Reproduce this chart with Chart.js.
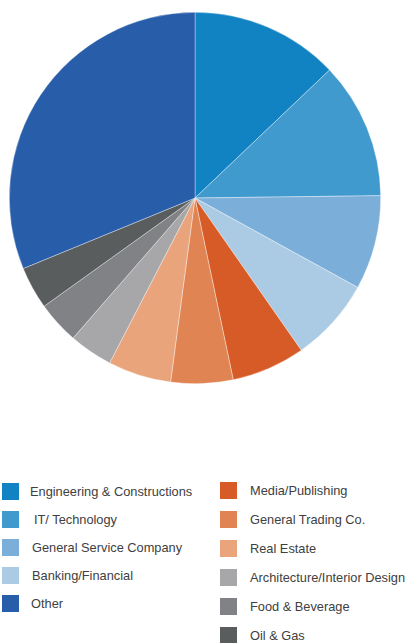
<!DOCTYPE html>
<html>
<head>
<meta charset="utf-8">
<script src="https://cdn.jsdelivr.net/npm/chart.js@4/dist/chart.umd.min.js"></script>
<style>
  html, body { margin: 0; padding: 0; background: #fff; }
  body { width: 406px; height: 643px; position: relative; overflow: hidden;
         font-family: "Liberation Sans", Arial, Helvetica, sans-serif; }
  #wrap { position: absolute; left: 0; top: 0; width: 406px; height: 400px; }
  .legend-item { position: absolute; height: 18px; line-height: 18px; font-size: 12.8px; color: #404040; white-space: nowrap; }
  .legend-item span { position: absolute; left: 0; top: 0; width: 17px; height: 17px; }
</style>
</head>
<body>
<div id="wrap"><canvas id="myChart"></canvas></div>
<div id="legend"></div>

<script>
const labels = [
  'Engineering & Constructions', 'IT/ Technology', 'General Service Company', 'Banking/Financial',
  'Media/Publishing', 'General Trading Co.', 'Real Estate', 'Architecture/Interior Design',
  'Food & Beverage', 'Oil & Gas', 'Other'
];
const shares = [12.9, 11.9, 8.2, 7.3, 6.4, 5.4, 5.5, 3.8, 3.7, 3.7, 31.2];
const colors = [
  '#1182c2', '#419ace', '#7bafd9', '#abcbe5',
  '#d75b27', '#e18453', '#e9a47c', '#a7a7a9',
  '#818285', '#5a5d5e', '#285daa'
];

// legend: left column holds the blues, right column the oranges and greys
const leftCol = [0, 1, 2, 3, 10];
const leftTextX = [28, 32, 30, 30, 29];
const rightCol = [4, 5, 6, 7, 8, 9];

const data = {
  labels: labels,
  datasets: [{
    data: shares,
    backgroundColor: colors,
    borderColor: 'rgba(255,255,255,0.6)',
    borderWidth: 0.6
  }]
};

const config = {
  type: 'pie',
  data: data,
  options: {
    responsive: true,
    maintainAspectRatio: false,
    animation: false,
    layout: { padding: { left: 9, right: 25, top: 12, bottom: 16 } },
    plugins: {
      legend: { display: false },
      tooltip: { enabled: false }
    }
  }
};

var myChart = new Chart(document.getElementById('myChart'), config);

const legend = document.getElementById('legend');
function addItem(i, x, y, textX) {
  const el = document.createElement('div');
  el.className = 'legend-item';
  el.style.left = x + 'px';
  el.style.top = y + 'px';
  el.style.paddingLeft = textX + 'px';
  el.innerHTML = '<span style="background:' + colors[i] + '"></span>';
  el.appendChild(document.createTextNode(labels[i]));
  legend.appendChild(el);
}
leftCol.forEach((i, k) => addItem(i, 2, 483 + k * 28, leftTextX[k]));
rightCol.forEach((i, k) => addItem(i, 220, 482 + k * 29, 30));
</script>
</body>
</html>
